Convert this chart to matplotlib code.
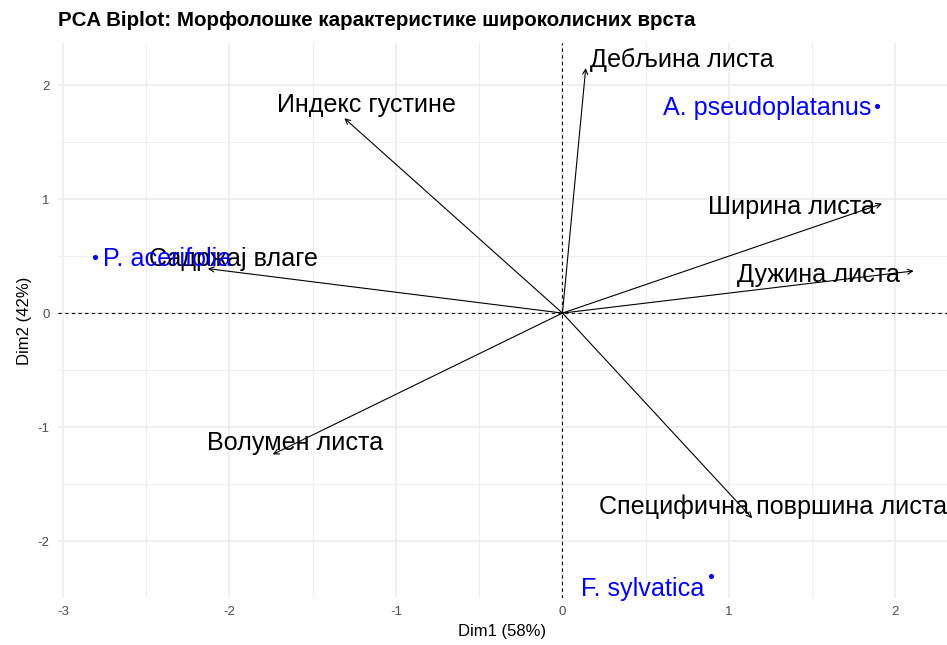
import matplotlib.pyplot as plt
import numpy as np

plt.rcParams['font.family'] = ['Liberation Sans', 'DejaVu Sans']
plt.rcParams['axes.unicode_minus'] = False

# variable loadings (arrow tips) on Dim1 / Dim2
variables = ['Дебљина листа', 'Индекс густине', 'Ширина листа', 'Дужина листа',
             'Садржај влаге', 'Волумен листа', 'Специфична површина листа']
var_dim1 = [0.14, -1.31, 1.92, 2.11, -2.13, -1.74, 1.14]
var_dim2 = [2.15, 1.71, 0.96, 0.37, 0.39, -1.24, -1.80]

# species scores
species = ['P. acerifolia', 'A. pseudoplatanus', 'F. sylvatica']
sp_dim1 = [-2.81, 1.89, 0.89]
sp_dim2 = [0.49, 1.82, -2.31]

# where the text goes relative to the arrow tip / point
var_label_pos = [(0.72, 2.225), (-1.175, 1.825), (1.373, 0.93), (1.536, 0.335),
                 (-1.975, 0.475), (-1.608, -1.14), (1.265, -1.70)]
sp_label_pos = [(-2.76, 0.475, 'left'), (1.855, 1.80, 'right'), (0.855, -2.42, 'right')]

fig = plt.figure(figsize=(9.47, 6.45), dpi=100)
ax = fig.add_axes([58 / 947, 1 - 598 / 645, 1 - 58 / 947, (598 - 43) / 645])

ax.set_xlim(-3.03, 2.31)
ax.set_ylim(-2.5, 2.37)
ax.set_xticks([-3, -2, -1, 0, 1, 2])
ax.set_yticks([-2, -1, 0, 1, 2])
ax.set_xticks(np.arange(-2.5, 2.4, 1.0), minor=True)
ax.set_yticks(np.arange(-2.5, 2.4, 1.0), minor=True)
ax.grid(which='major', color='#EBEBEB', linewidth=1.1)
ax.grid(which='minor', color='#EFEFEF', linewidth=0.8)
ax.set_axisbelow(True)
for s in ax.spines.values():
    s.set_visible(False)
ax.tick_params(which='both', length=0, labelsize=9.5, labelcolor='#4D4D4D', pad=6)

ax.axhline(0, color='black', linestyle='--', linewidth=0.8, dashes=(3, 3))
ax.axvline(0, color='black', linestyle='--', linewidth=0.8, dashes=(3, 3))

for name, x, y, (lx, ly) in zip(variables, var_dim1, var_dim2, var_label_pos):
    ax.annotate('', xy=(x, y), xytext=(0, 0),
                arrowprops=dict(arrowstyle='->', lw=0.8, color='black',
                                shrinkA=0, shrinkB=0, mutation_scale=9))
    ax.text(lx, ly, name, fontsize=18.1, ha='center', va='center', color='black')

ax.scatter(sp_dim1, sp_dim2, s=7, color='blue', zorder=3)
for name, (lx, ly, ha) in zip(species, sp_label_pos):
    ax.text(lx, ly, name, fontsize=18.1, ha=ha, va='center', color='blue')

ax.set_xlabel('Dim1 (58%)', fontsize=12, labelpad=4)
ax.set_ylabel('Dim2 (42%)', fontsize=12, labelpad=4)
fig.text(58 / 947, 1 - 20 / 645, 'PCA Biplot: Морфолошке карактеристике широколисних врста',
         fontsize=14.8, fontweight='bold', va='center', ha='left')

fig.savefig('out.png', dpi=100)
